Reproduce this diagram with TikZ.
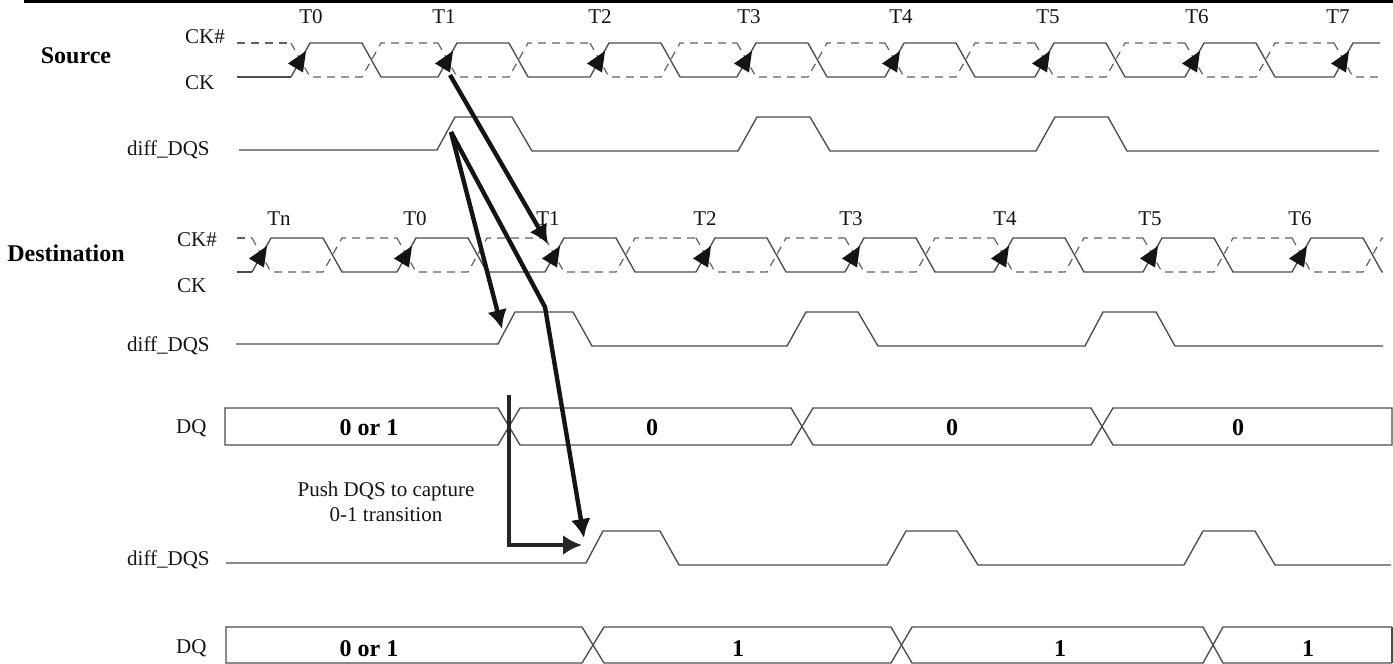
\documentclass[tikz,border=0pt]{standalone}
\usepackage{fontspec}
\setmainfont{Liberation Serif}
\usetikzlibrary{arrows.meta}
\tikzset{
  x=1pt,y=-1pt,
  wave/.style={draw=black!70,line width=1.35pt,line join=miter},
  dashwave/.style={draw=black!62,line width=1.2pt,dash pattern=on 8pt off 6pt},
  lab/.style={font=\fontsize{21}{23}\selectfont,inner sep=0pt,text=black!92},
  blab/.style={font=\fontsize{24}{26}\selectfont\bfseries,inner sep=0pt},
  thick arrow/.style={draw=black!92,line width=4.4pt,line join=miter,-{Latex[length=19pt,width=20pt]}},
  clockhead/.style={fill=black!92,draw=none}
}
\newcommand{\clockrow}[4]{% list, high y, low y, right clip
  \begin{scope}
    \clip (0,0) rectangle (#4,664);
    \foreach \r/\n in {#1}{
      \pgfmathsetmacro{\a}{\r+19}\pgfmathsetmacro{\b}{\r+71}\pgfmathsetmacro{\c}{\r+90}
      \draw[wave] (\r,#3) -- (\a,#2) -- (\b,#2) -- (\c,#3) -- (\n,#3);
      \draw[dashwave] (\r,#2) -- (\a,#3) -- (\b,#3) -- (\c,#2) -- (\n,#2);
      \pgfmathsetmacro{\ta}{\r+15}\pgfmathsetmacro{\tb}{\r-3}\pgfmathsetmacro{\tc}{\r+12}
      \pgfmathsetmacro{\ya}{#2+8}\pgfmathsetmacro{\yb}{#2+20.5}\pgfmathsetmacro{\yc}{#2+29.5}
      \fill[clockhead] (\ta,\ya) -- (\tb,\yb) -- (\tc,\yc) -- cycle;
    }
  \end{scope}
}
\begin{document}
\begin{tikzpicture}
\useasboundingbox (0,0) rectangle (1393,664);
\fill[black] (24,0) rectangle (1393,3);

% Source clock
\draw[wave] (237,77) -- (291,77);
\draw[dashwave] (237,43) -- (291,43);
\clockrow{291/438,438/590,590/737,737/885,885/1035,1035/1185,1185/1334,1334/1500}{43}{77}{1380}
% Source DQS
\draw[wave] (239,150) -- (437,150) -- (455,117) -- (512,117) -- (532,151) -- (738,151) -- (757,117) -- (810,117) -- (830,151) -- (1036,151) -- (1055,117) -- (1108,117) -- (1127,151) -- (1379,151);

% Destination clock
\draw[wave] (237,272) -- (252,272);
\draw[dashwave] (237,238) -- (252,238);
\clockrow{252/397,397/545,545/696,696/845,845/994,994/1143,1143/1292,1292/1500}{238}{272}{1383}
% Destination DQS
\draw[wave] (236,344) -- (498,344) -- (515,312) -- (573,312) -- (592,346) -- (787,346) -- (806,312) -- (858,312) -- (878,346) -- (1085,346) -- (1103,312) -- (1156,312) -- (1175,346) -- (1383,346);

% DQ 1
\draw[wave] (498,408) -- (225,408) -- (225,445) -- (498,445) -- (520,408) -- (791,408) -- (813,445) -- (1091,445) -- (1113,408) -- (1392,408) -- (1392,445) -- (1113,445) -- (1091,408) -- (813,408) -- (791,445) -- (520,445) -- cycle;

% DQS 3
\draw[wave] (226,563) -- (586,563) -- (603,531) -- (660,531) -- (679,565) -- (887,565) -- (906,531) -- (957,531) -- (978,565) -- (1184,565) -- (1203,531) -- (1255,531) -- (1275,565) -- (1391,565);

% DQ 2
\draw[wave] (582,627) -- (226,627) -- (226,663) -- (582,663) -- (604,627) -- (891,627) -- (912,663) -- (1203,663) -- (1223,627) -- (1392,627);
\draw[wave] (582,627) -- (604,663) -- (891,663) -- (912,627) -- (1203,627) -- (1223,663) -- (1392,663);
\draw[wave] (1392,627) -- (1392,663);

% Labels
\node[blab,anchor=base] (source) at (76,63) {Source};
\node[blab,anchor=base] (dest) at (66,261) {Destination};
\node[lab,anchor=base west] (ckh1) at (185,43) {CK\#};
\node[lab,anchor=base west] (ck1) at (185,89) {CK};
\node[lab,anchor=base west] (dqs1) at (127,155) {diff\_DQS};
\node[lab,anchor=base west] (ckh2) at (177,246) {CK\#};
\node[lab,anchor=base west] (ck2) at (177,292) {CK};
\node[lab,anchor=base west] (dqs2) at (127,351) {diff\_DQS};
\node[lab,anchor=base west] (dq1) at (176,433) {DQ};
\node[lab,anchor=base west] (dqs3) at (127,565) {diff\_DQS};
\node[lab,anchor=base west] (dq2) at (176,653) {DQ};

\foreach \n/\x/\t in {a0/311/T0,a1/444/T1,a2/600/T2,a3/749/T3,a4/901/T4,a5/1048/T5,a6/1197/T6,a7/1338/T7}
  \node[lab,anchor=base] (\n) at (\x,23) {\t};
\foreach \n/\x/\t in {bn/279/Tn,b0/415/T0,b1/548/T1,b2/705/T2,b3/851/T3,b4/1005/T4,b5/1150/T5,b6/1300/T6}
  \node[lab,anchor=base] (\n) at (\x,225) {\t};

\foreach \n/\x/\t in {d10/369/0 or 1,d11/652/0,d12/952/0,d13/1238/0}
  \node[blab,anchor=base] (\n) at (\x,435) {\t};
\foreach \n/\x/\t in {d20/369/0 or 1,d21/738/1,d22/1060/1,d23/1308/1}
  \node[blab,anchor=base] (\n) at (\x,656) {\t};

\node[lab,anchor=base] (push1) at (386,496) {Push DQS to capture};
\node[lab,anchor=base] (push2) at (386,521) {0-1 transition};

% Thick connectors
\coordinate (ckedge) at (450,75);
\coordinate (dqsedge) at (451,132);
\coordinate (ckdest) at (548,244);
\coordinate (dqsdest) at (502,329);
\coordinate (bend) at (545,307);
\coordinate (dqsfinal) at (584,538);
\coordinate (crosstop) at (509,395);
\coordinate (corner) at (509,545);
\coordinate (pushend) at (582,545);
\draw[thick arrow] (ckedge) -- (ckdest);
\draw[thick arrow] (dqsedge) -- (dqsdest);
\draw[thick arrow] (dqsedge) -- (bend) -- (dqsfinal);
\draw[thick arrow,line width=3.8pt,draw=black!85] (crosstop) -- (corner) -- (pushend);
\end{tikzpicture}
\end{document}
